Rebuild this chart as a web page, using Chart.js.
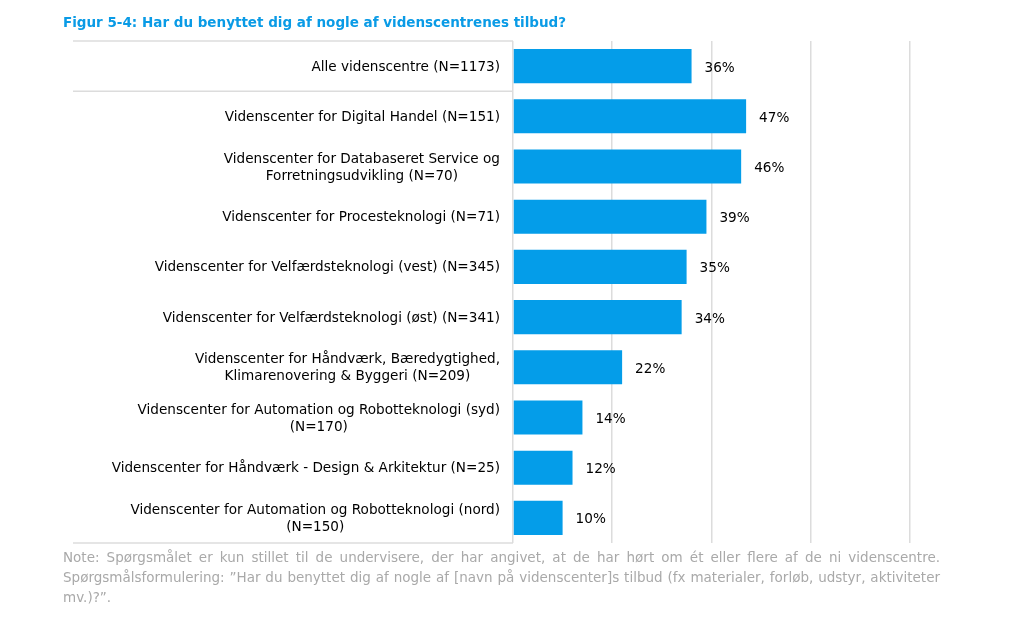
<!DOCTYPE html>
<html lang="da">
<head>
    <meta charset="UTF-8">
    <meta name="viewport" content="width=device-width, initial-scale=1.0">
    <title>Figur 5-4</title>
    <script src="https://cdn.jsdelivr.net/npm/chart.js"></script>
    <style>
        body { margin: 0; background: #fff; font-family: "DejaVu Sans", Verdana, sans-serif; }
        #wrap { position: relative; width: 1009px; height: 635px; overflow: hidden; }
        #title { position: absolute; left: 63px; top: 14px; font-size: 13.5px; font-weight: bold; color: #0a9be6; white-space: nowrap; }
        #note { position: absolute; left: 63px; top: 547px; width: 877px; font-size: 13.5px; line-height: 20px; color: #a9a9a9; }
        #note div { text-align: justify; text-align-last: justify; white-space: nowrap; }
        #note div.last { text-align-last: left; }
        canvas { position: absolute; left: 0; top: 0; }
    </style>
</head>
<body>
<div id="wrap">
    <canvas id="chart" width="1009" height="635"></canvas>
    <div id="title">Figur 5-4: Har du benyttet dig af nogle af videnscentrenes tilbud?</div>
    <div id="note">
        <div>Note: Spørgsmålet er kun stillet til de undervisere, der har angivet, at de har hørt om ét eller flere af de ni videnscentre.</div>
        <div>Spørgsmålsformulering: ”Har du benyttet dig af nogle af [navn på videnscenter]s tilbud (fx materialer, forløb, udstyr, aktiviteter</div>
        <div class="last">mv.)?”.</div>
    </div>
</div>

<script>
    // categories (one array per label, one entry per text line)
    const categories = [
        ['Alle videnscentre (N=1173)'],
        ['Videnscenter for Digital Handel (N=151)'],
        ['Videnscenter for Databaseret Service og', 'Forretningsudvikling (N=70)'],
        ['Videnscenter for Procesteknologi (N=71)'],
        ['Videnscenter for Velfærdsteknologi (vest) (N=345)'],
        ['Videnscenter for Velfærdsteknologi (øst) (N=341)'],
        ['Videnscenter for Håndværk, Bæredygtighed,', 'Klimarenovering & Byggeri (N=209)'],
        ['Videnscenter for Automation og Robotteknologi (syd)', '(N=170)'],
        ['Videnscenter for Håndværk - Design & Arkitektur (N=25)'],
        ['Videnscenter for Automation og Robotteknologi (nord)', '(N=150)']
    ];
    const shares = [36, 47, 46, 39, 35, 34, 22, 14, 12, 10];
    const gridTicks = [0, 20, 40, 60, 80, 100];

    const barColor = '#049de9';
    const lineColor = '#dcdcdc';

    // labels on the left: block right-aligned at the axis, lines centred inside the block
    const categoryLabels = {
        id: 'categoryLabels',
        afterDraw(chart) {
            const ctx = chart.ctx;
            const y = chart.scales.y;
            const area = chart.chartArea;
            ctx.save();
            ctx.font = '13.6px "DejaVu Sans", Verdana, sans-serif';
            ctx.fillStyle = '#000';
            ctx.textAlign = 'center';
            ctx.textBaseline = 'middle';
            categories.forEach((lines, i) => {
                const cy = y.getPixelForValue(i);
                const w = Math.max(...lines.map(l => ctx.measureText(l).width));
                const cx = area.left - 13 - w / 2;
                const lh = 17;
                lines.forEach((l, j) => {
                    ctx.fillText(l, cx, cy + 1 + (j - (lines.length - 1) / 2) * lh);
                });
            });

            // separator lines in the label column
            const half = (y.getPixelForValue(1) - y.getPixelForValue(0)) / 2;
            ctx.strokeStyle = lineColor;
            ctx.lineWidth = 1.5;
            [area.top, y.getPixelForValue(0) + half, area.bottom].forEach(py => {
                ctx.beginPath();
                ctx.moveTo(73, py);
                ctx.lineTo(area.left, py);
                ctx.stroke();
            });
            ctx.restore();
        }
    };

    // value labels to the right of each bar
    const valueLabels = {
        id: 'valueLabels',
        afterDatasetsDraw(chart) {
            const ctx = chart.ctx;
            const meta = chart.getDatasetMeta(0);
            ctx.save();
            ctx.font = '13.6px "DejaVu Sans", Verdana, sans-serif';
            ctx.fillStyle = '#000';
            ctx.textAlign = 'left';
            ctx.textBaseline = 'middle';
            meta.data.forEach((bar, i) => {
                ctx.fillText(shares[i] + '%', bar.x + 13, bar.y + 2);
            });
            ctx.restore();
        }
    };

    const ctx = document.getElementById('chart').getContext('2d');
    new Chart(ctx, {
        type: 'bar',
        data: {
            labels: categories.map(c => c.join(' ')),
            datasets: [{
                data: shares,
                backgroundColor: barColor,
                borderWidth: 0,
                barPercentage: 0.68,
                categoryPercentage: 1
            }]
        },
        options: {
            indexAxis: 'y',
            responsive: false,
            animation: false,
            devicePixelRatio: 1,
            layout: { padding: { left: 513, top: 41, right: 0, bottom: 92 } },
            plugins: {
                legend: { display: false },
                tooltip: { enabled: false }
            },
            scales: {
                x: {
                    min: 0,
                    max: 100,
                    afterBuildTicks: axis => { axis.ticks = gridTicks.map(v => ({ value: v })); },
                    ticks: { display: false },
                    border: { display: false },
                    grid: {
                        drawTicks: false,
                        lineWidth: 1.5,
                        color: c => c.tick && c.tick.value === 100 ? 'rgba(0,0,0,0)' : lineColor
                    }
                },
                y: {
                    display: false
                }
            }
        },
        plugins: [categoryLabels, valueLabels]
    });
</script>
</body>
</html>
